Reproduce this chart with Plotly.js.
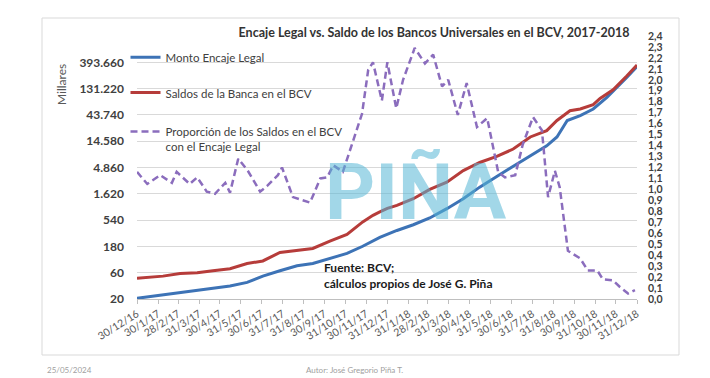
<!DOCTYPE html>
<html>
<head>
<meta charset="utf-8">
<script src="https://cdn.plot.ly/plotly-3.0.1.min.js"></script>
<style>html,body{margin:0;padding:0;background:#fff}#chart{width:710px;height:378px}</style>
</head>
<body>
<div id="chart"></div>
<script>
// ---- Data ----
const fechasEncaje = ['2016-12-30','2017-02-06','2017-03-03','2017-04-20','2017-05-15','2017-06-09','2017-07-02','2017-07-27','2017-08-21','2017-09-13','2017-10-08','2017-11-02','2017-11-25','2017-12-20','2018-01-14','2018-02-07','2018-03-03','2018-03-28','2018-04-21','2018-05-15','2018-06-09','2018-07-03','2018-07-28','2018-08-21','2018-09-05','2018-09-20','2018-10-09','2018-10-28','2018-11-17','2018-12-02','2018-12-16','2018-12-31'];
const montoEncaje = [20.6,23.6,26.4,31,34.4,40,52,65,80,88,109,134,181,262,350,445,590,870,1320,2140,3350,5060,7700,12000,17400,34600,42500,56000,91000,139000,210000,330000];

const fechasSaldos = ['2016-12-30','2017-02-06','2017-03-03','2017-03-28','2017-04-20','2017-05-15','2017-06-09','2017-07-02','2017-07-27','2017-08-21','2017-09-13','2017-10-08','2017-11-02','2017-11-25','2017-12-10','2017-12-20','2017-12-31','2018-01-14','2018-02-07','2018-03-03','2018-03-28','2018-04-21','2018-05-15','2018-06-09','2018-07-03','2018-07-28','2018-08-21','2018-09-05','2018-09-24','2018-10-09','2018-10-28','2018-11-07','2018-11-26','2018-12-16','2018-12-31'];
const saldosBanca = [47.5,52,58,60,65,71,88,98,140,154,165,225,298,500,660,760,880,1000,1320,1950,2640,4270,6000,7700,10500,17400,22700,34600,52000,56000,67000,87000,125000,222000,350000];

const fechasProporcion = ['2016-12-30','2017-01-14','2017-02-02','2017-02-19','2017-02-26','2017-03-17','2017-03-28','2017-04-11','2017-04-23','2017-05-08','2017-05-15','2017-05-27','2017-06-10','2017-06-28','2017-07-08','2017-07-24','2017-07-30','2017-08-15','2017-09-09','2017-09-24','2017-10-04','2017-10-13','2017-10-27','2017-11-11','2017-11-24','2017-12-03','2017-12-10','2017-12-23','2017-12-31','2018-01-13','2018-01-23','2018-02-09','2018-02-24','2018-03-08','2018-03-21','2018-03-30','2018-04-13','2018-04-26','2018-05-11','2018-05-26','2018-06-11','2018-06-21','2018-07-06','2018-07-17','2018-08-01','2018-08-14','2018-08-23','2018-09-02','2018-09-09','2018-09-21','2018-10-09','2018-10-20','2018-11-03','2018-11-11','2018-11-26','2018-12-06','2018-12-18','2018-12-28'];
const proporcion = [1.16,1.05,1.13,1.06,1.16,1.05,1.11,0.98,0.96,1.06,0.97,1.28,1.17,0.98,1.03,1.13,1.20,0.93,0.88,1.10,1.11,1.22,1.16,1.45,1.69,2.09,2.16,1.81,2.16,1.74,2.00,2.29,2.15,2.23,1.94,2.00,1.68,1.97,1.57,1.65,1.16,1.11,1.13,1.41,1.66,1.54,0.93,1.17,1.02,0.44,0.37,0.26,0.26,0.18,0.17,0.11,0.05,0.08];

const tickFechas = ['2016-12-30','2017-01-30','2017-02-28','2017-03-31','2017-04-30','2017-05-31','2017-06-30','2017-07-31','2017-08-31','2017-09-30','2017-10-31','2017-11-30','2017-12-31','2018-01-31','2018-02-28','2018-03-31','2018-04-30','2018-05-31','2018-06-30','2018-07-31','2018-08-31','2018-09-30','2018-10-31','2018-11-30','2018-12-31'];
const tickFechasTexto = ['30/12/16','30/1/17','28/2/17','31/3/17','30/4/17','31/5/17','30/6/17','31/7/17','31/8/17','30/9/17','31/10/17','30/11/17','31/12/17','31/1/18','28/2/18','31/3/18','30/4/18','31/5/18','30/6/18','31/7/18','31/8/18','30/9/18','31/10/18','30/11/18','31/12/18'];
const tickIzq = [20,60,180,540,1620,4860,14580,43740,131220,393660];
const tickIzqTexto = ['20','60','180','540','1.620','4.860','14.580','43.740','131.220','393.660'];
const tickDer = [0,0.1,0.2,0.3,0.4,0.5,0.6,0.7,0.8,0.9,1.0,1.1,1.2,1.3,1.4,1.5,1.6,1.7,1.8,1.9,2.0,2.1,2.2,2.3,2.4];
const tickDerTexto = ['0,0','0,1','0,2','0,3','0,4','0,5','0,6','0,7','0,8','0,9','1,0','1,1','1,2','1,3','1,4','1,5','1,6','1,7','1,8','1,9','2,0','2,1','2,2','2,3','2,4'];

const FONT = 'Lato, "Open Sans", sans-serif';

const traces = [
  {x: fechasEncaje, y: montoEncaje, type: 'scatter', mode: 'lines', name: 'Monto Encaje Legal',
   line: {color: '#3d73b6', width: 3}, legend: 'legend'},
  {x: fechasSaldos, y: saldosBanca, type: 'scatter', mode: 'lines', name: 'Saldos de la Banca en el BCV',
   line: {color: '#b63c3a', width: 3}, legend: 'legend2'},
  {x: fechasProporcion, y: proporcion, type: 'scatter', mode: 'lines', yaxis: 'y2',
   name: 'Proporción de los Saldos en el BCV<br>con el Encaje Legal',
   line: {color: '#8b6dbd', width: 2.5, dash: '7px,4px'}, legend: 'legend3'}
];

const legBase = {bgcolor: 'rgba(0,0,0,0)', font: {family: FONT, size: 11.5, color: '#404040'},
  xanchor: 'left', x: -0.023, valign: 'top'};

const layout = {
  width: 710, height: 378,
  margin: {l: 137, r: 73, t: 36, b: 79},
  paper_bgcolor: '#ffffff', plot_bgcolor: '#ffffff',
  font: {family: FONT, color: '#404040'},
  title: {text: '<b>Encaje Legal vs. Saldo de los Bancos Universales en el BCV, 2017-2018</b>',
    x: 434/710, xanchor: 'center', y: 1 - 33/378, yanchor: 'middle',
    font: {family: FONT, size: 12.5, color: '#333333'}},
  showlegend: true,
  legend: Object.assign({}, legBase, {y: 0.917, yanchor: 'middle'}),
  legend2: Object.assign({}, legBase, {y: 0.783, yanchor: 'middle'}),
  legend3: Object.assign({}, legBase, {y: 0.69, yanchor: 'top'}),
  xaxis: {type: 'date', range: ['2016-12-30', '2018-12-31'],
    tickmode: 'array', tickvals: tickFechas, ticktext: tickFechasTexto, tickangle: -32,
    ticks: 'outside', ticklen: 4, tickcolor: '#bfbfbf', showline: true, linecolor: '#bfbfbf',
    showgrid: false, zeroline: false, tickfont: {family: FONT, size: 10.5, color: '#595959'}},
  yaxis: {type: 'log', range: [Math.log10(20), Math.log10(20 * Math.pow(3, 10))],
    tickmode: 'array', tickvals: tickIzq, ticktext: tickIzqTexto,
    showgrid: true, gridcolor: '#d9d9d9', gridwidth: 1, zeroline: false, showline: false,
    ticks: '', ticklabelstandoff: 12,
    tickfont: {family: FONT, size: 12, color: '#404040', weight: 'bold'}},
  yaxis2: {overlaying: 'y', side: 'right', range: [0, 2.4],
    tickmode: 'array', tickvals: tickDer, ticktext: tickDerTexto,
    showgrid: false, zeroline: false, showline: false, ticks: '', ticklabelstandoff: 10,
    tickfont: {family: FONT, size: 10.5, color: '#404040', weight: 'bold'}},
  shapes: [
    {type: 'rect', xref: 'paper', yref: 'paper', x0: (42-137)/500, x1: (679-137)/500,
     y0: (299-355)/263, y1: (299-18)/263, line: {color: '#d9d9d9', width: 1}, layer: 'below'}
  ],
  annotations: [
    {text: 'Millares', xref: 'paper', yref: 'paper', x: (52-137)/500, y: (299-62)/263,
     textangle: -90, showarrow: false, font: {family: FONT, size: 12, color: '#595959'}},
    {text: '<b>Fuente: BCV;<br>cálculos propios de José G. Piña</b>', xref: 'paper', yref: 'paper',
     x: (322-137)/500, y: (299-275.5)/263, xanchor: 'left', yanchor: 'middle', align: 'left',
     showarrow: false, font: {family: FONT, size: 12, color: '#1a1a1a'}},
    {text: '<b>PIÑA</b>', xref: 'paper', yref: 'paper', x: (416-137)/500, y: (299-192)/263,
     xanchor: 'center', yanchor: 'middle', showarrow: false,
     font: {family: 'Roboto, Lato, sans-serif', size: 78, color: 'rgba(85,182,214,0.55)'}},
    {text: '25/05/2024', xref: 'paper', yref: 'paper', x: (45-137)/500, y: (299-370)/263,
     xanchor: 'left', yanchor: 'middle', showarrow: false,
     font: {family: FONT, size: 8, color: '#a0a0a0'}},
    {text: 'Autor: José Gregorio Piña T.', xref: 'paper', yref: 'paper', x: (304-137)/500, y: (299-370)/263,
     xanchor: 'left', yanchor: 'middle', showarrow: false,
     font: {family: FONT, size: 8, color: '#a0a0a0'}}
  ]
};

Plotly.newPlot('chart', traces, layout, {displayModeBar: false, staticPlot: true});
</script>
</body>
</html>
